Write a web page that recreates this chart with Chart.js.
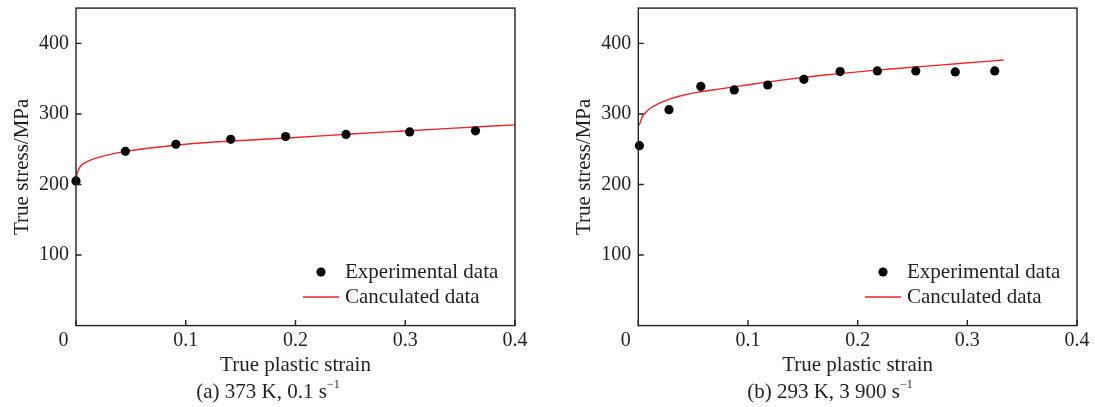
<!DOCTYPE html>
<html>
<head>
<meta charset="utf-8">
<script src="https://cdn.jsdelivr.net/npm/chart.js@4.4.0/dist/chart.umd.min.js"></script>
<style>
  body { margin: 0; background: #fff; width: 1095px; height: 407px; position: relative; overflow: hidden;
         font-family: 'Liberation Serif', 'Times New Roman', serif; color: #231f20; }
  canvas { position: absolute; top: 0; }
  .caption { position: absolute; top: 379px; font-size: 21px; line-height: 24px; white-space: nowrap; transform: translateX(-50%); }
  .caption sup { font-size: 12px; line-height: 0; position: relative; top: -2px; }
</style>
</head>
<body>
<canvas id="chartA" width="547" height="407" style="left:0"></canvas>
<canvas id="chartB" width="533" height="407" style="left:562px"></canvas>
<div class="caption" style="left:268px">(a) 373 K, 0.1 s<sup>−1</sup></div>
<div class="caption" style="left:830px">(b) 293 K, 3 900 s<sup>−1</sup></div>

<script>
// --- Data ---
const xTicks = [0, 0.1, 0.2, 0.3, 0.4];
const yTicks = [100, 200, 300, 400];

// (a) 373 K, 0.1 s-1
const expStrainA = [0, 0.045, 0.091, 0.141, 0.191, 0.246, 0.304, 0.364];
const expStressA = [205, 247, 257, 264, 268, 271, 274.5, 276];
const fitStrainA = [0, 0.002, 0.005, 0.011, 0.023, 0.044, 0.069, 0.093, 0.12, 0.159, 0.204, 0.25, 0.295, 0.341, 0.4];
const fitStressA = [209, 220, 227.5, 233, 239.4, 246.5, 252, 256, 259.5, 263, 267, 271.5, 275.5, 279.5, 284.5];

// (b) 293 K, 3 900 s-1
const expStrainB = [0.001, 0.028, 0.057, 0.0875, 0.118, 0.151, 0.184, 0.218, 0.253, 0.289, 0.325];
const expStressB = [255, 306, 339, 334, 341, 349, 360, 361, 361, 359.5, 361];
const fitStrainB = [0, 0.0016, 0.003, 0.006, 0.011, 0.017, 0.026, 0.038, 0.053, 0.068, 0.084, 0.099, 0.1185, 0.172, 0.2325, 0.293, 0.333];
const fitStressB = [283, 287, 294, 301, 308, 313.6, 319.7, 325.4, 330.6, 334, 337.7, 341, 345.5, 355.5, 364, 371.5, 376.5];

const TEXT = '#231f20';
const RED = '#e8262b';
const FONT = "'Liberation Serif', 'Times New Roman', serif";

// --- Box frame + inward tick marks ---
const frameTicks = {
    id: 'frameTicks',
    afterDraw(chart) {
        const { ctx, chartArea: a, scales } = chart;
        ctx.save();
        ctx.strokeStyle = '#222';
        ctx.lineWidth = 1.4;
        ctx.strokeRect(a.left, a.top, a.right - a.left, a.bottom - a.top);
        ctx.beginPath();
        xTicks.forEach(v => {
            const px = scales.x.getPixelForValue(v);
            ctx.moveTo(px, a.bottom);
            ctx.lineTo(px, a.bottom - 5.5);
        });
        yTicks.forEach(v => {
            const py = scales.y.getPixelForValue(v);
            ctx.moveTo(a.left, py);
            ctx.lineTo(a.left + 5.5, py);
        });
        ctx.stroke();
        ctx.restore();
    }
};

// --- Legend inside the plot, lower right ---
const innerLegend = {
    id: 'innerLegend',
    afterDraw(chart) {
        const { ctx, chartArea: a } = chart;
        const [fit, exp] = chart.data.datasets;
        const r = a.right;
        const y1 = 272, y2 = 297;
        ctx.save();
        ctx.fillStyle = exp.backgroundColor;
        ctx.beginPath();
        ctx.arc(r - 194, y1, exp.pointRadius, 0, Math.PI * 2);
        ctx.fill();
        ctx.strokeStyle = fit.borderColor;
        ctx.lineWidth = fit.borderWidth;
        ctx.beginPath();
        ctx.moveTo(r - 212, y2);
        ctx.lineTo(r - 176, y2);
        ctx.stroke();
        ctx.fillStyle = TEXT;
        ctx.font = `21px ${FONT}`;
        ctx.textAlign = 'left';
        ctx.textBaseline = 'middle';
        ctx.fillText(exp.label, r - 170, y1);
        ctx.fillText(fit.label, r - 170, y2);
        ctx.restore();
    }
};

function toPoints(xs, ys) {
    return xs.map((x, i) => ({ x, y: ys[i] }));
}

function makeChart(id, expX, expY, fitX, fitY, padRight, yWidth) {
    return new Chart(document.getElementById(id), {
        type: 'scatter',
        data: {
            datasets: [
                {
                    label: 'Canculated data',
                    data: toPoints(fitX, fitY),
                    showLine: true,
                    borderColor: RED,
                    borderWidth: 1.4,
                    pointRadius: 0,
                    cubicInterpolationMode: 'monotone',
                    order: 2
                },
                {
                    label: 'Experimental data',
                    data: toPoints(expX, expY),
                    backgroundColor: '#000',
                    borderWidth: 0,
                    pointRadius: 4.6,
                    clip: false,
                    order: 1
                }
            ]
        },
        options: {
            responsive: false,
            animation: false,
            events: [],
            layout: { padding: { top: 8.1, right: padRight, bottom: 0, left: 0 } },
            plugins: { legend: { display: false }, tooltip: { enabled: false } },
            scales: {
                x: {
                    type: 'linear',
                    min: 0,
                    max: 0.4,
                    afterFit: s => { s.height = 81.4; s.paddingLeft = 0; s.paddingRight = 0; },
                    grid: { display: false, drawTicks: false, tickLength: 0 },
                    border: { display: false },
                    ticks: {
                        stepSize: 0.1,
                        padding: 3,
                        color: TEXT,
                        font: { family: FONT, size: 20 },
                        maxRotation: 0,
                        // the origin label sits a little left of the corner
                        callback: v => (v === 0 ? '0     ' : v.toFixed(1))
                    },
                    title: {
                        display: true,
                        text: 'True plastic strain',
                        color: TEXT,
                        font: { family: FONT, size: 21 },
                        padding: { top: 0, bottom: 29.4 }
                    }
                },
                y: {
                    type: 'linear',
                    min: 0,
                    max: 450,
                    afterFit: s => { s.width = yWidth; s.paddingTop = 0; s.paddingBottom = 0; },
                    grid: { display: false, drawTicks: false, tickLength: 0 },
                    border: { display: false },
                    ticks: {
                        stepSize: 100,
                        includeBounds: false,
                        padding: 7,
                        color: TEXT,
                        font: { family: FONT, size: 20 },
                        callback: v => (yTicks.includes(v) ? String(v) : '')
                    },
                    title: {
                        display: true,
                        text: 'True stress/MPa',
                        color: TEXT,
                        font: { family: FONT, size: 21 },
                        padding: { top: 9.4, bottom: 0 }
                    }
                }
            }
        },
        plugins: [frameTicks, innerLegend]
    });
}

makeChart('chartA', expStrainA, expStressA, fitStrainA, fitStressA, 32, 76);
makeChart('chartB', expStrainB, expStressB, fitStrainB, fitStressB, 18, 76.3);
</script>
</body>
</html>
